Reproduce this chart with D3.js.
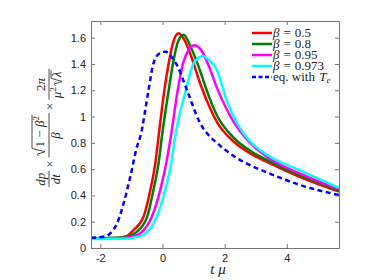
<!DOCTYPE html>
<html><head><meta charset="utf-8">
<script src="https://cdn.jsdelivr.net/npm/d3@7"></script>
<style>body{margin:0;background:#fff}</style>
</head><body>
<svg id="c" width="375" height="280"></svg>
<script>
// ---- data ----
const xTicks = [-2, 0, 2, 4];
const xTickLabels = ["-2", "0", "2", "4"];
const yTicks = [0, 0.2, 0.4, 0.6, 0.8, 1, 1.2, 1.4, 1.6];
const yTickLabels = ["0", "0.2", "0.4", "0.6", "0.8", "1", "1.2", "1.4", "1.6"];

const redX   = [-2.3,-1.5,-1.2,-0.93,-0.61,-0.39,-0.23,-0.125,0.06,0.2,0.35,0.52,0.7,0.89,1.215,1.54,1.75,2.29,2.82,3.36,4.43,5.68];
const redY   = [0.075,0.077,0.085,0.137,0.239,0.442,0.645,0.85,1.2,1.405,1.57,1.634,1.585,1.48,1.25,1.06,0.96,0.81,0.72,0.655,0.54,0.43];
const greenX = [-2.3,-1.4,-1.1,-0.82,-0.49,-0.29,-0.125,-0.017,0.2,0.34,0.5,0.68,0.87,1.05,1.215,1.5,1.75,2.29,2.82,3.36,4.43,5.68];
const greenY = [0.075,0.078,0.09,0.124,0.239,0.442,0.645,0.85,1.2,1.405,1.57,1.623,1.55,1.45,1.345,1.15,1.01,0.84,0.74,0.67,0.552,0.44];
const magX   = [-2.3,-1.3,-1.0,-0.71,-0.34,-0.07,0.12,0.27,0.49,0.66,0.85,1.03,1.215,1.5,1.75,2.29,2.82,3.36,4.43,5.68];
const magY   = [0.072,0.075,0.085,0.112,0.239,0.442,0.645,0.85,1.2,1.405,1.51,1.543,1.515,1.38,1.22,0.96,0.80,0.695,0.565,0.448];
const cyanX  = [-2.3,-1.2,-0.9,-0.61,-0.18,0.09,0.28,0.41,0.75,1.0,1.15,1.29,1.5,1.75,2.07,2.5,2.82,3.36,4.43,5.68];
const cyanY  = [0.068,0.07,0.08,0.10,0.239,0.442,0.645,0.85,1.2,1.405,1.445,1.458,1.43,1.355,1.12,0.91,0.81,0.71,0.59,0.458];
const eqX    = [-2.3,-1.89,-1.68,-1.46,-1.25,-1.035,-0.82,-0.71,-0.45,-0.29,-0.1,0.09,0.3,0.49,0.79,1.215,1.48,1.75,2.29,2.82,3.36,4.43,5.68];
const eqY    = [0.078,0.086,0.112,0.188,0.34,0.543,0.771,0.85,1.2,1.405,1.48,1.494,1.45,1.38,1.2,0.949,0.86,0.80,0.70,0.63,0.575,0.479,0.403];

const legendValues = ["0.5", "0.8", "0.95", "0.973"];

// ---- chart ----
const svg = d3.select('#c');
const L = 91, R = 339, T = 21, B = 248;
const x = d3.scaleLinear().domain([-2.3, 5.68]).range([L, R]);
const y = d3.scaleLinear().domain([0, 1.727]).range([B, T]);

svg.append('defs').append('clipPath').attr('id','clip')
  .append('rect').attr('x', L).attr('y', T).attr('width', R - L).attr('height', B - T);

const series = [
  {xs: redX, ys: redY, color: '#ff0000'},
  {xs: greenX, ys: greenY, color: '#008000'},
  {xs: magX, ys: magY, color: '#ff00ff'},
  {xs: cyanX, ys: cyanY, color: '#00ffff'},
  {xs: eqX, ys: eqY, color: '#0000ff', dash: '5,3.5'}
];

const line = d3.line().x(d => x(d[0])).y(d => y(d[1])).curve(d3.curveMonotoneX);
const plot = svg.append('g').attr('clip-path', 'url(#clip)');
series.forEach(s => {
  plot.append('path')
    .datum(s.xs.map((v, i) => [v, s.ys[i]]))
    .attr('d', line)
    .attr('fill', 'none')
    .attr('stroke', s.color)
    .attr('stroke-width', 2.5)
    .attr('stroke-dasharray', s.dash || null);
});

// axes
const axColor = '#777';
function styleAxis(g) {
  g.selectAll('path.domain').attr('stroke', axColor);
  g.selectAll('.tick line').attr('stroke', axColor);
  g.selectAll('.tick text').attr('fill', '#222')
    .style('font-family', '"Liberation Sans", Arial, sans-serif').style('font-size', '11px');
}
svg.append('g').attr('transform', `translate(0,${B})`)
  .call(d3.axisBottom(x).tickValues(xTicks).tickFormat((d, i) => xTickLabels[i]).tickSizeInner(-4).tickSizeOuter(0).tickPadding(6))
  .call(styleAxis);
svg.append('g').attr('transform', `translate(0,${T})`)
  .call(d3.axisTop(x).tickValues(xTicks).tickFormat('').tickSizeInner(-4).tickSizeOuter(0))
  .call(styleAxis);
svg.append('g').attr('transform', `translate(${L},0)`)
  .call(d3.axisLeft(y).tickValues(yTicks).tickFormat((d, i) => yTickLabels[i]).tickSizeInner(-4).tickSizeOuter(0).tickPadding(5))
  .call(styleAxis);
svg.append('g').attr('transform', `translate(${R},0)`)
  .call(d3.axisRight(y).tickValues(yTicks).tickFormat('').tickSizeInner(-4).tickSizeOuter(0))
  .call(styleAxis);
svg.selectAll('.domain').attr('fill', 'none');

// legend
const serif = '"Liberation Serif", "Times New Roman", "DejaVu Serif", serif';
const lg = svg.append('g').style('font-family', serif).style('font-size', '13px').attr('fill', '#222');
const rowY = i => 33 + i * 11;
series.forEach((s, i) => {
  lg.append('line').attr('x1', 252).attr('x2', 272).attr('y1', rowY(i)).attr('y2', rowY(i))
    .attr('stroke', s.color).attr('stroke-width', 2.5).attr('stroke-dasharray', s.dash ? '4,2.5' : null);
  const t = lg.append('text').attr('x', 273).attr('y', rowY(i) + 4);
  if (i < 4) {
    t.append('tspan').text('β').style('font-style', 'italic');
    t.append('tspan').text('=').attr('dx', 4);
    t.append('tspan').text(legendValues[i]).attr('dx', 4);
  } else {
    t.append('tspan').text('eq. with ');
    t.append('tspan').text('T').style('font-style', 'italic').attr('dx', 1);
    t.append('tspan').text('e').style('font-style', 'italic').style('font-size', '9px').attr('dy', 2);
  }
});

// x label
svg.append('text').attr('x', 218).attr('y', 274).attr('text-anchor', 'middle')
  .style('font-family', serif).style('font-size', '15px').style('font-style', 'italic').attr('fill', '#222')
  .text('t μ');

// y label (math, rotated)
(function () {
  const fs = 13;
  const outer = svg.append('g').attr('transform', 'translate(49,128) rotate(-90)')
    .style('font-family', serif).style('font-size', fs + 'px').attr('fill', '#222');
  const g = outer.append('g');
  function run(parent, parts, x0, base) {
    const t = parent.append('text').attr('x', x0).attr('y', base);
    let shift = 0;
    parts.forEach(p => {
      const target = p.sup ? -fs * 0.4 : (p.sub ? fs * 0.2 : 0);
      const ts = t.append('tspan').text(p.t).attr('dy', target - shift)
        .style('font-style', p.i ? 'italic' : 'normal');
      if (p.sup || p.sub) ts.style('font-size', (fs * 0.7) + 'px');
      if (p.dx) ts.attr('dx', p.dx);
      shift = target;
    });
    const bb = t.node().getBBox();
    return bb.x + bb.width - x0;
  }
  function radical(parent, x0, base, parts, top) {
    const w = run(parent, parts, x0 + 8.5, base);
    const end = x0 + 8.5 + w + 1;
    parent.append('path')
      .attr('d', `M${x0},${base - fs * 0.42} L${x0 + 1.8},${base - fs * 0.52} L${x0 + 4.2},${base + 1} L${x0 + 7.5},${top} L${end},${top}`)
      .attr('fill', 'none').attr('stroke', '#222').attr('stroke-width', 0.8);
    return end - x0;
  }
  function frac(cx, drawNum, drawDen) {
    const gn = g.append('g'), gd = g.append('g');
    const wn = drawNum(gn), wd = drawDen(gd);
    const w = Math.max(wn, wd) + 3;
    gn.attr('transform', `translate(${cx + (w - wn) / 2},0)`);
    gd.attr('transform', `translate(${cx + (w - wd) / 2},0)`);
    g.append('line').attr('x1', cx).attr('x2', cx + w).attr('y1', 0).attr('y2', 0)
      .attr('stroke', '#222').attr('stroke-width', 0.8);
    return w;
  }
  function times(cx) {
    return run(g, [{t: '×'}], cx + 3, 4.5) + 6;
  }
  let c = 0;
  c += frac(c, p => run(p, [{t: 'dp', i: true}], 0, -4), p => run(p, [{t: 'dt', i: true}], 0, 10.5));
  c += times(c);
  c += frac(c, p => radical(p, 0, -5, [{t: '1 − '}, {t: 'β', i: true}, {t: '2', sup: true}], -17),
               p => run(p, [{t: 'β', i: true}], 0, 11));
  c += times(c);
  c += frac(c, p => run(p, [{t: '2'}, {t: 'π', i: true}], 0, -4),
               p => { const w1 = run(p, [{t: 'μ', i: true}, {t: '2', sup: true}], 0, 12);
                      return w1 + 1 + radical(p, w1 + 1, 12, [{t: 'λ', i: true}], 2); });
  g.attr('transform', `translate(${-c / 2},0)`);
})();
</script>
</body></html>
